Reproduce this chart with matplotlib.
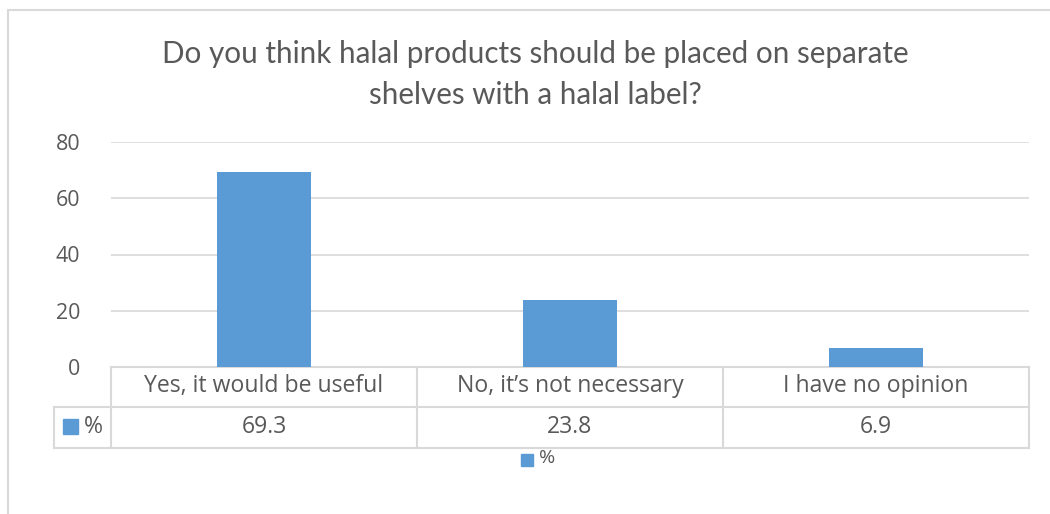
import matplotlib
matplotlib.use("Agg")
import matplotlib.pyplot as plt
from matplotlib.patches import Rectangle
from matplotlib.lines import Line2D
import matplotlib.transforms as mtransforms

categories = ["Yes, it would be useful", "No, it\u2019s not necessary", "I have no opinion"]
values = [69.3, 23.8, 6.9]
value_labels = ["69.3", "23.8", "6.9"]
series_name = "%"
yticks = [0, 20, 40, 60, 80]
title = "Do you think halal products should be placed on separate\nshelves with a halal label?"

BAR = "#5B9BD5"
GRID = "#D9D9D9"
TXT = "#595959"
FONT = "Open Sans"
TFONT = "Lato"
FS = 16.6
TICKFS = 15.4

W, H = 1050, 514
fig = plt.figure(figsize=(W / 100, H / 100), dpi=100)
fig.patch.set_facecolor("white")

def fx(px):
    return px / W

def fy(py):
    return 1 - py / H

# outer chart border (only top & left visible)
fig.add_artist(Line2D([fx(8), fx(8)], [fy(10), 0], transform=fig.transFigure, color=GRID, lw=1.5))
fig.add_artist(Line2D([fx(8), 1], [fy(10), fy(10)], transform=fig.transFigure, color=GRID, lw=1.5))

# plot area
L, R, T, B = 111, 1029, 142, 367
ax = fig.add_axes([fx(L), fy(B), fx(R - L), (B - T) / H])
x = list(range(len(categories)))
ax.bar(x, values, width=0.31, color=BAR, zorder=3)
ax.set_xlim(-0.5, len(categories) - 0.5)
ax.set_ylim(0, 80)
ax.set_yticks(yticks)
ax.yaxis.grid(True, color=GRID, lw=1.2)
ax.set_axisbelow(True)
for s in ax.spines.values():
    s.set_visible(False)
ax.tick_params(axis="y", length=0, pad=22, labelsize=TICKFS, labelcolor=TXT)
ax.tick_params(axis="x", length=0, labelbottom=False)
for lab in ax.get_yticklabels():
    lab.set_fontfamily(FONT)

# data table
ph = B - T
def ay(py):
    return -(py - B) / ph

pw = R - L
def axx(px):
    return (px - L) / pw

r0, r1, r2 = 367, 407, 448
lkw = dict(transform=ax.transAxes, color=GRID, lw=1.5, clip_on=False)
ax.add_line(Line2D([0, 1], [ay(r0), ay(r0)], **lkw))
ax.add_line(Line2D([axx(54), 1], [ay(r1), ay(r1)], **lkw))
ax.add_line(Line2D([axx(54), 1], [ay(r2), ay(r2)], **lkw))
ax.add_line(Line2D([axx(54), axx(54)], [ay(r1), ay(r2)], **lkw))
blend = mtransforms.blended_transform_factory(ax.transData, ax.transAxes)
for i in range(len(categories) + 1):
    xv = i - 0.5
    ax.add_line(Line2D([xv, xv], [ay(r0), ay(r2)], transform=blend, color=GRID, lw=1.5, clip_on=False))
for i, (c, v) in enumerate(zip(categories, value_labels)):
    ax.text(i, ay((r0 + r1) / 2 - 1), c, transform=blend, ha="center", va="center",
            fontsize=FS, color=TXT, fontfamily=FONT)
    ax.text(i, ay((r1 + r2) / 2 - 0.5), v, transform=blend, ha="center", va="center",
            fontsize=FS, color=TXT, fontfamily=FONT)
# legend key in table
ax.add_patch(Rectangle((axx(63), ay(434)), 15 / pw, 15 / ph, transform=ax.transAxes,
                       color=BAR, clip_on=False))
ax.text(axx(84), ay((r1 + r2) / 2 - 0.5), series_name, transform=ax.transAxes, ha="left", va="center",
        fontsize=FS, color=TXT, fontfamily=FONT)

# bottom legend
fig.add_artist(Rectangle((fx(521), fy(466)), 12 / W, 12 / H, transform=fig.transFigure, color=BAR))
fig.text(fx(539), fy(458), series_name, ha="left", va="center", fontsize=14, color=TXT, fontfamily=FONT)

# title
fig.text(fx(535), fy(74.5), title, ha="center", va="center", fontsize=21.3, color=TXT,
         fontfamily=TFONT, linespacing=1.6)

fig.savefig("out.png", dpi=100, facecolor="white")
